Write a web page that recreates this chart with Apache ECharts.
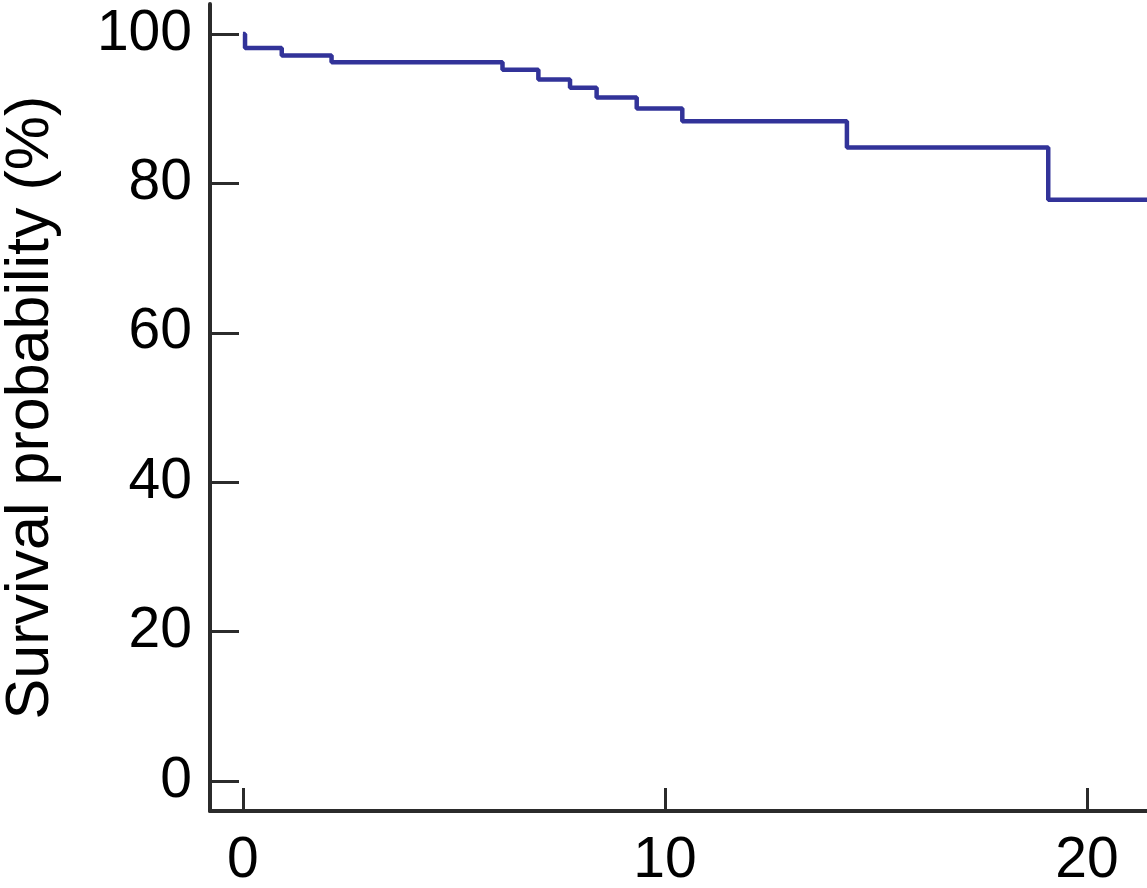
<!DOCTYPE html>
<html>
<head>
    <meta charset="utf-8">
    <title>Survival probability</title>
    <script src="https://cdn.jsdelivr.net/npm/echarts@6/dist/echarts.min.js"></script>
    <style type="text/css">
        * {
            margin: 0;
            padding: 0;
        }

        body {
            background: #fff;
            overflow: hidden;
        }
    </style>
</head>
<body>
<div id="main" style="width: 1147px;height: 888px;"></div>
<script type="text/javascript">
    // event times and survival (%)
    var times = [0, 0.05, 0.92, 2.10, 6.15, 7.00, 7.75, 8.38, 9.33, 10.41, 14.31, 19.08, 21.42];
    var survival = [100, 98.1, 97.1, 96.2, 95.2, 93.9, 92.8, 91.5, 90.0, 88.3, 84.8, 77.8, 77.8];
    var xTicks = [0, 10, 20];
    var yTicks = [0, 20, 40, 60, 80, 100];

    var points = [];
    for (var i = 0; i < times.length; i++) {
        points.push([times[i], survival[i]]);
    }

    var axisColor = '#2b2b2b';
    var font = "'Liberation Sans', Arial, sans-serif";

    var myChart = echarts.init(document.getElementById('main'));
    var option = {
        animation: false,
        grid: {
            left: 210,
            right: 0,
            top: 4,
            bottom: 77,
            containLabel: false,
            outerBoundsMode: 'none'
        },
        xAxis: {
            type: 'value',
            min: -0.78,
            max: 21.42,
            axisLine: {
                onZero: false,
                lineStyle: {color: axisColor, width: 4}
            },
            axisTick: {
                inside: true,
                length: 23,
                customValues: xTicks,
                lineStyle: {color: axisColor, width: 3}
            },
            axisLabel: {
                customValues: xTicks,
                margin: 22,
                color: '#000',
                fontSize: 57,
                fontFamily: font
            },
            splitLine: {show: false}
        },
        yAxis: [{
            type: 'value',
            min: -4,
            max: 104,
            name: 'Survival probability (%)',
            nameLocation: 'middle',
            nameGap: 148,
            nameTextStyle: {
                color: '#000',
                fontSize: 61,
                fontFamily: font
            },
            axisLine: {
                onZero: false,
                lineStyle: {color: axisColor, width: 4}
            },
            axisTick: {show: false},
            axisLabel: {
                customValues: yTicks,
                margin: 18,
                color: '#000',
                fontSize: 57,
                fontFamily: font
            },
            splitLine: {show: false}
        }, {
            // tick marks only, moved inside the plot so they point back to the axis line
            type: 'value',
            position: 'left',
            offset: -29,
            min: -4,
            max: 104,
            axisLine: {show: false, onZero: false},
            axisTick: {
                inside: false,
                length: 29,
                customValues: yTicks,
                lineStyle: {color: axisColor, width: 3}
            },
            axisLabel: {show: false},
            splitLine: {show: false}
        }],
        series: [{
            type: 'line',
            step: 'end',
            yAxisIndex: 0,
            data: points,
            symbol: 'none',
            clip: true,
            lineStyle: {color: '#323399', width: 4.5}
        }]
    };
    myChart.setOption(option);
</script>
</body>
</html>
